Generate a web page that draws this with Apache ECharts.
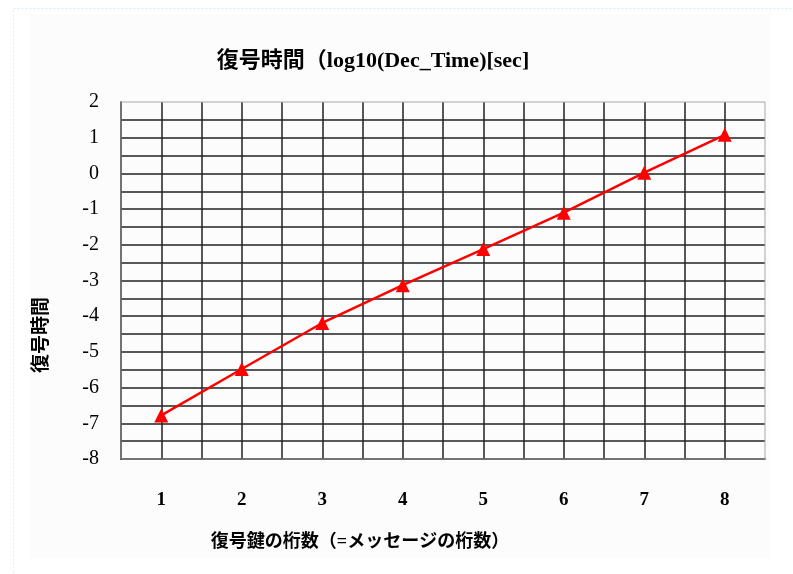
<!DOCTYPE html>
<html>
<head>
<meta charset="utf-8">
<script src="https://cdn.jsdelivr.net/npm/echarts@6/dist/echarts.min.js"></script>
<style>
  html, body { margin: 0; padding: 0; background: #fff; }
  #main { width: 793px; height: 574px; }
</style>
</head>
<body>
<div id="main"></div>
<script>
  // 桁数
  var digits = [1, 2, 3, 4, 5, 6, 7, 8]
  // log10(復号時間)
  var decTime = [-6.78, -5.48, -4.19, -3.13, -2.12, -1.1, 0.02, 1.08]
  var yTicks = [-8, -7, -6, -5, -4, -3, -2, -1, 0, 1, 2]

  var serif = '"Liberation Serif", "Noto Sans CJK JP", serif'
  var points = []
  for (var i = 0; i < digits.length; i++) {
    points.push([digits[i], decTime[i]])
  }

  var myChart = echarts.init(document.getElementById('main'))
  var option = {
    backgroundColor: '#fff',
    animation: false,
    title: {
      text: '復号時間（log10(Dec_Time)[sec]',
      left: 368,
      textAlign: 'center',
      top: 45,
      textStyle: {
        fontFamily: serif,
        fontSize: 22,
        fontWeight: 'bold',
        color: '#000'
      }
    },
    grid: {
      left: 121,
      top: 102,
      right: 28,
      bottom: 115,
      show: true,
      borderColor: '#a8a8a8',
      borderWidth: 1,
      z: 3
    },
    graphic: [
      {
        type: 'rect',
        left: 13,
        top: 8,
        z: -10,
        shape: { width: 800, height: 600 },
        style: { fill: '#fff', stroke: '#c8f4f6', lineWidth: 1, lineDash: [2, 2] }
      },
      {
        type: 'rect',
        left: 30,
        top: 15,
        z: -9,
        shape: { width: 740, height: 543 },
        style: { fill: '#fcfcfc' }
      },
      {
        type: 'text',
        left: 30,
        top: 297,
        rotation: Math.PI / 2,
        style: {
          text: '復号時間',
          font: 'bold 19px "Noto Sans CJK JP"',
          fill: '#000'
        }
      }
    ],
    xAxis: {
      type: 'value',
      min: 0.5,
      max: 8.5,
      interval: 0.5,
      name: '復号鍵の桁数（=メッセージの桁数）',
      nameLocation: 'middle',
      nameGap: 74,
      nameTextStyle: {
        fontFamily: serif,
        fontSize: 18,
        fontWeight: 'bold',
        color: '#000',
        padding: [0, 166, 0, 0]
      },
      axisLine: { show: true, onZero: false, lineStyle: { color: '#000', width: 1.5 } },
      axisTick: { show: false },
      axisLabel: {
        margin: 32,
        fontFamily: serif,
        fontSize: 19,
        fontWeight: 'bold',
        color: '#000',
        showMinLabel: false,
        showMaxLabel: false,
        formatter: function (value) {
          return digits.indexOf(value) >= 0 ? String(value) : ''
        }
      },
      splitLine: {
        show: true,
        showMinLine: false,
        showMaxLine: false,
        lineStyle: { color: '#222', width: 1.5 }
      }
    },
    yAxis: {
      type: 'value',
      min: -8,
      max: 2,
      interval: 0.5,
      axisLine: { show: true, onZero: false, lineStyle: { color: '#000', width: 1.5 } },
      axisTick: { show: false },
      axisLabel: {
        margin: 22,
        fontFamily: serif,
        fontSize: 20,
        color: '#000',
        formatter: function (value) {
          return yTicks.indexOf(value) >= 0 ? String(value) : ''
        }
      },
      splitLine: {
        show: true,
        showMinLine: false,
        showMaxLine: false,
        lineStyle: { color: '#222', width: 1.5 }
      }
    },
    series: [
      {
        type: 'line',
        data: points,
        symbol: 'triangle',
        symbolSize: 14,
        z: 5,
        itemStyle: { color: '#ff0000' },
        lineStyle: { color: '#ff0000', width: 2.5 }
      }
    ]
  }
  option && myChart.setOption(option, true)
</script>
</body>
</html>
